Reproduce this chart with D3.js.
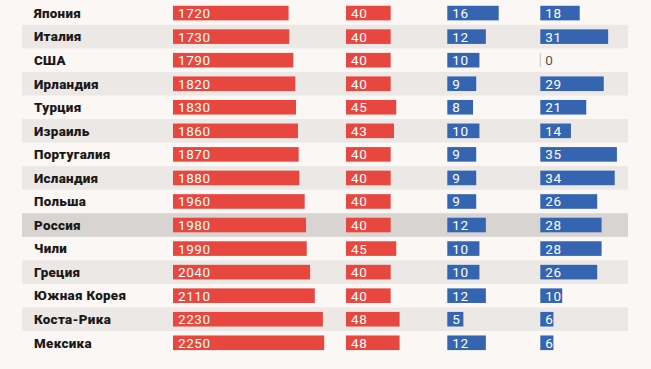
<!DOCTYPE html>
<html><head><meta charset="utf-8">
<script src="https://cdn.jsdelivr.net/npm/d3@7"></script>
<style>
html,body{margin:0;padding:0;background:#faf7f4;}
svg{display:block;}
</style></head>
<body>
<svg id="chart" width="651" height="369"></svg>
<script>
const countries = ["Япония","Италия","США","Ирландия","Турция","Израиль","Португалия","Исландия","Польша","Россия","Чили","Греция","Южная Корея","Коста-Рика","Мексика"];
const hours = [1720,1730,1790,1820,1830,1860,1870,1880,1960,1980,1990,2040,2110,2230,2250];
const weekLimit = [40,40,40,40,45,43,40,40,40,40,45,40,40,48,48];
const vacation = [16,12,10,9,8,10,9,9,9,12,10,10,12,5,12];
const holidays = [18,31,0,29,21,14,35,34,26,28,28,26,10,6,6];
const highlight = "Россия";

const svg = d3.select("#chart");
const W = 651, H = 369;
svg.append("rect").attr("width",W).attr("height",H).attr("fill","#faf7f4");

const y = d3.scaleBand().domain(countries).range([1.3, 1.3 + countries.length*23.55]).paddingInner(0);
const rowH = y.bandwidth();

// stripes
svg.append("g").selectAll("rect").data(countries).join("rect")
  .attr("x",22).attr("width",606)
  .attr("y",d=>y(d)).attr("height",rowH)
  .attr("fill",(d,i)=> d===highlight ? "#d7d4d1" : (i%2===1 ? "#ebe8e5" : "none"));

// labels
svg.append("g").selectAll("text").data(countries).join("text")
  .attr("x",34).attr("y",d=>y(d)+rowH/2)
  .attr("dy","0.36em")
  .attr("font-family","Roboto, 'Open Sans', sans-serif")
  .attr("font-weight","900").attr("font-size",13.4)
  .attr("letter-spacing","0.3px")
  .attr("fill","#1c1a18")
  .text(d=>d);

const red = "#e8473f", blue = "#3565b0";
const cols = [
  {vals:hours, x0:173, scale:d3.scaleLinear().domain([0,2250]).range([0,151.2]), color:red},
  {vals:weekLimit, x0:346, scale:d3.scaleLinear().domain([0,48]).range([0,53.6]), color:red},
  {vals:vacation, x0:447.3, scale:d3.scaleLinear().domain([0,16]).range([0,51.4]), color:blue},
  {vals:holidays, x0:540.3, scale:d3.scaleLinear().domain([0,35]).range([0,76.6]), color:blue}
];
const barH = 14.6;
cols.forEach(c=>{
  const g = svg.append("g");
  const data = countries.map((d,i)=>({c:d,v:c.vals[i]}));
  g.selectAll("rect").data(data).join("rect")
    .attr("x",d=> d.v===0 ? c.x0-0.5 : c.x0)
    .attr("y",d=>y(d.c)+rowH/2-barH/2)
    .attr("width",d=> d.v===0 ? 1 : c.scale(d.v))
    .attr("height",barH)
    .attr("fill",d=> d.v===0 ? "#c9c5c1" : c.color);
  g.selectAll("text").data(data).join("text")
    .attr("x",c.x0 + 5)
    .attr("y",d=>y(d.c)+rowH/2)
    .attr("dy","0.37em")
    .attr("font-family","Roboto, 'Open Sans', sans-serif")
    .attr("font-size",13.5)
    .attr("letter-spacing","0.6px")
    .attr("fill",d=> d.v===0 ? "#555" : "#fff")
    .text(d=>d.v);
});
</script>
</body></html>
